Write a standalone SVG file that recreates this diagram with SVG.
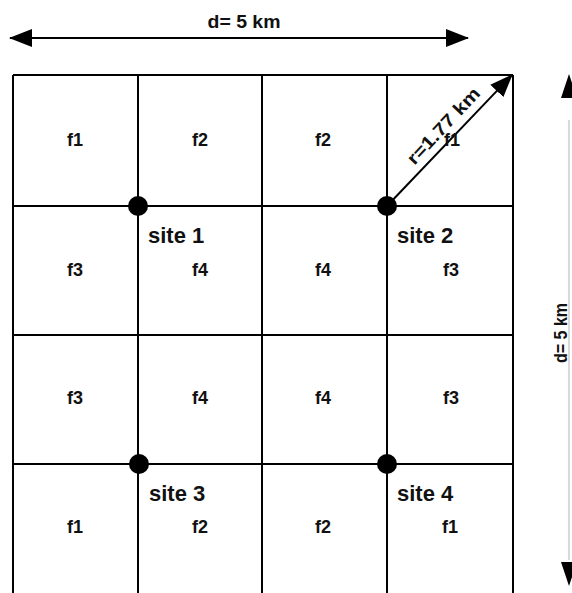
<svg xmlns="http://www.w3.org/2000/svg" width="572" height="593" viewBox="0 0 572 593">
<style>
.g{stroke:#000;stroke-width:2;fill:none}
.f{font-family:"Liberation Sans",Arial,sans-serif;font-weight:bold;font-size:18px;fill:#111;text-anchor:middle}
.s{font-family:"Liberation Sans",Arial,sans-serif;font-weight:bold;font-size:22px;fill:#111}
.d{font-family:"Liberation Sans",Arial,sans-serif;font-weight:bold;font-size:18px;fill:#111;text-anchor:middle}
</style>
<defs>
<marker id="ah" markerWidth="24" markerHeight="18" refX="22" refY="9" orient="auto" markerUnits="userSpaceOnUse">
<path d="M0,0 L23,9 L0,18 Z" fill="#000"/>
</marker>
</defs>
<rect width="572" height="593" fill="#fff"/>
<g id="grid">
<path class="g" d="M13,75 H513 M13,206 H513 M13,335 H513 M13,464 H513 M13,75 V593 M138,75 V593 M262,75 V593 M387,75 V593 M513,75 V593"/>
</g>
<g id="connectors">
<line x1="20" y1="38" x2="468" y2="38" stroke="#000" stroke-width="2" marker-end="url(#ah)"/>
<line x1="460" y1="38" x2="10" y2="38" stroke="#000" stroke-width="2" marker-end="url(#ah)"/>
<line x1="387" y1="206" x2="512" y2="75" stroke="#000" stroke-width="2" marker-end="url(#ah)"/>
<line x1="569" y1="120" x2="569" y2="560" stroke="#ccc" stroke-width="1.5"/>
<path d="M569,74 L561,98 L577,98 Z" fill="#000"/>
<path d="M569,586 L561,562 L577,562 Z" fill="#000"/>
</g>
<g id="labels">
<text class="d" x="244" y="28" textLength="73" lengthAdjust="spacingAndGlyphs">d= 5 km</text>
<text class="d" transform="translate(567,333) rotate(-90)" textLength="60" lengthAdjust="spacingAndGlyphs">d= 5 km</text>
<text class="d" font-size="19" transform="translate(448,130) rotate(-47)" textLength="98" lengthAdjust="spacingAndGlyphs">r=1.77 km</text>
</g>
<g id="cells">
<text class="f" x="75" y="146">f1</text>
<text class="f" x="200" y="146">f2</text>
<text class="f" x="323" y="146">f2</text>
<text class="f" x="452" y="146">f1</text>
<text class="f" x="75" y="276">f3</text>
<text class="f" x="200" y="276">f4</text>
<text class="f" x="323" y="276">f4</text>
<text class="f" x="451" y="276">f3</text>
<text class="f" x="75" y="404">f3</text>
<text class="f" x="200" y="404">f4</text>
<text class="f" x="323" y="404">f4</text>
<text class="f" x="451" y="404">f3</text>
<text class="f" x="75" y="533">f1</text>
<text class="f" x="200" y="533">f2</text>
<text class="f" x="323" y="533">f2</text>
<text class="f" x="450" y="533">f1</text>
</g>
<g id="site1"><circle cx="138" cy="206" r="10" fill="#000"/><text class="s" x="148" y="243">site 1</text></g>
<g id="site2"><circle cx="387" cy="206" r="10" fill="#000"/><text class="s" x="397" y="243">site 2</text></g>
<g id="site3"><circle cx="139" cy="464" r="10" fill="#000"/><text class="s" x="149" y="501">site 3</text></g>
<g id="site4"><circle cx="387" cy="464" r="10" fill="#000"/><text class="s" x="397" y="501">site 4</text></g>
</svg>
